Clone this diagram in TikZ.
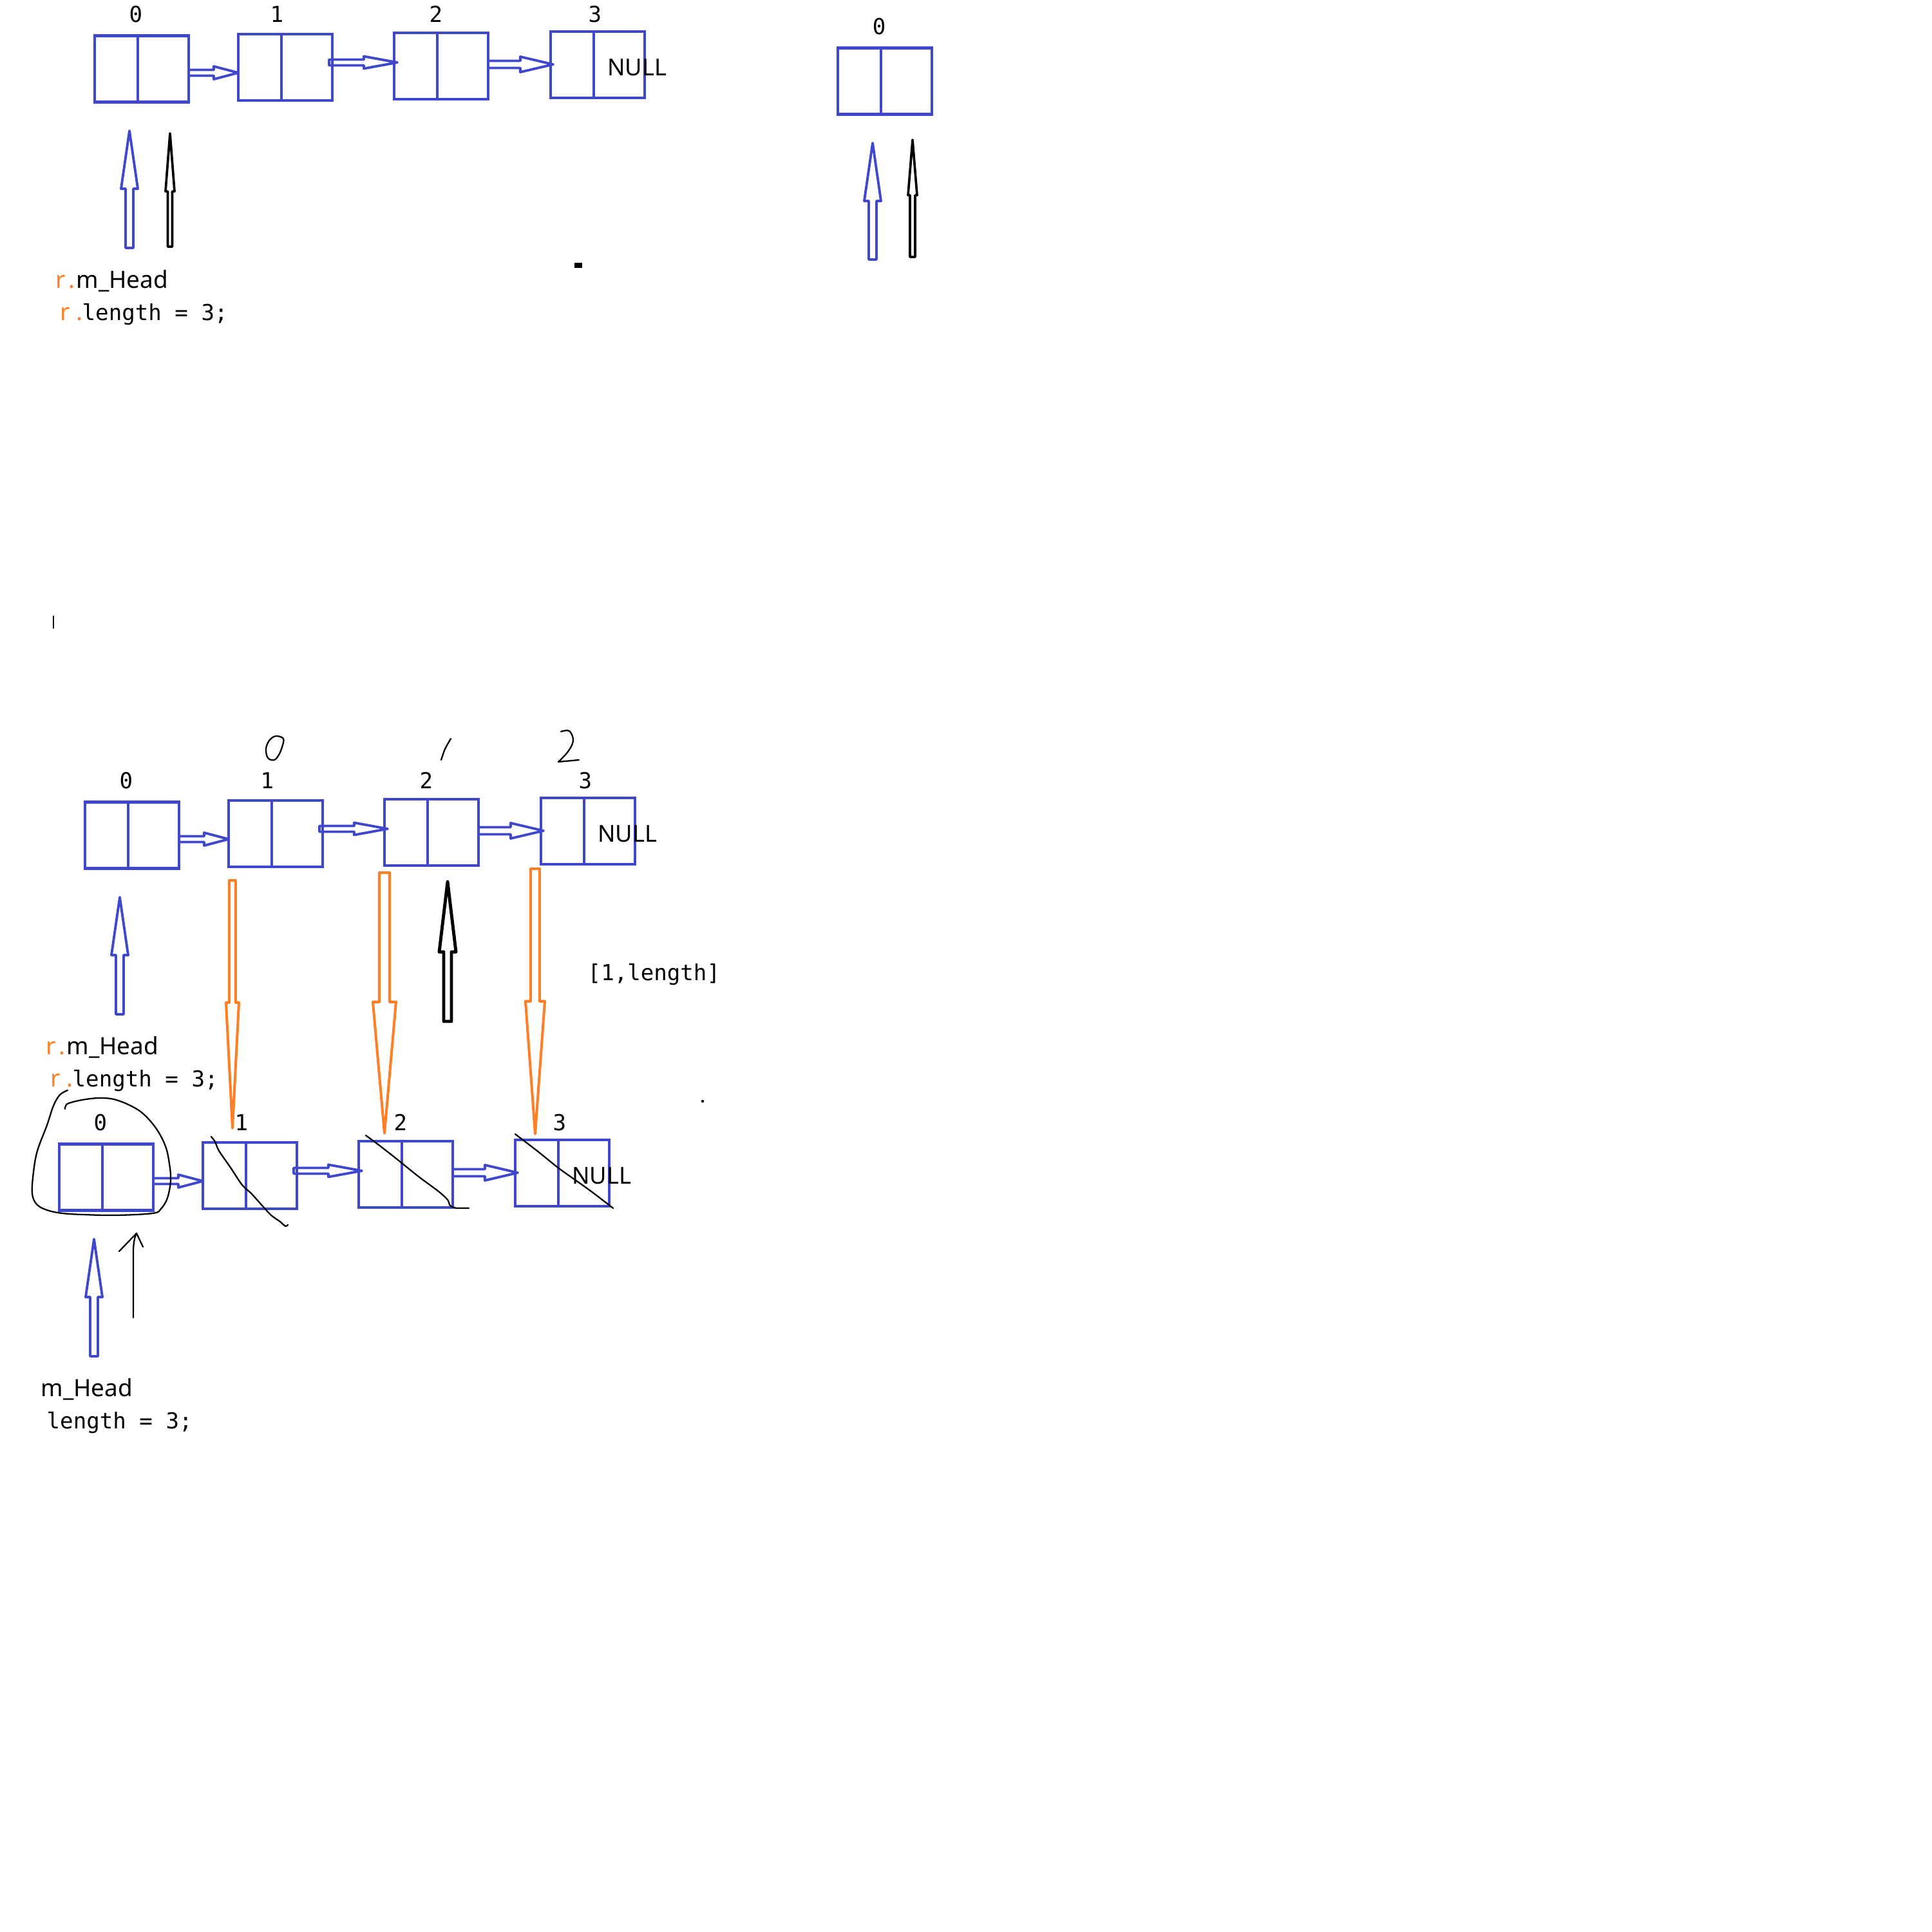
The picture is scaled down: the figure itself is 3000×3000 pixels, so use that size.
\documentclass[tikz,border=0pt]{standalone}
\usepackage{fontspec}
\setmainfont{Noto Sans}
\newfontfamily\monof{DejaVu Sans Mono}
\usetikzlibrary{calc}
\definecolor{pblue}{RGB}{63,72,204}
\definecolor{porange}{RGB}{255,127,39}
\tikzset{
  cell/.style={draw=pblue, line width=1.3pt, rectangle, minimum width=1.46cm, minimum height=1.03cm, inner sep=0pt, outer sep=0pt},
  divider/.style={draw=pblue, line width=1.2pt},
  idx/.style={font=\monof\fontsize{9.7}{11}\selectfont, inner sep=0pt},
  code/.style={font=\monof\fontsize{9.7}{11}\selectfont, inner sep=0pt, anchor=base west},
  sanstext/.style={font=\fontsize{10.5}{12}\selectfont, inner sep=0pt, anchor=base west},
  rdot/.style={font=\fontsize{10.5}{12}\selectfont, inner sep=0pt, anchor=base west, text=porange},
  nulltext/.style={font=\fontsize{10.3}{12}\selectfont, inner sep=0pt},
  bluearrow/.style={draw=pblue, line width=1.1pt, line join=round},
  orangearrow/.style={draw=porange, line width=1.15pt, line join=round},
  blackarrow/.style={draw=black, line width=1.4pt, line join=round},
  thinblack/.style={draw=black, line width=1.05pt, line join=round},
  hand/.style={draw=black, line width=0.65pt, line cap=round, line join=round},
}
% hollow block arrow: [style]{tail}{tip}{shaft half width}{head half width}{head length} (all in px)
\newcommand\blockarrow[6][]{%
  \path (#2) coordinate (bas) (#3) coordinate (bae);
  \pgfpointdiff{\pgfpointanchor{bas}{center}}{\pgfpointanchor{bae}{center}}%
  \pgfgetlastxy\badx\bady
  \pgfmathsetmacro\balen{veclen(\badx,\bady)/0.284528}%
  \pgfmathsetmacro\baang{atan2(\bady,\badx)}%
  \pgfmathsetmacro\babase{\balen-(#6)}%
  \begin{scope}[reset cm, shift={(bas)}, rotate=\baang, x=0.01cm, y=0.01cm]
    \draw[#1] (0,-#4) -- (\babase,-#4) -- (\babase,-#5) -- (\balen,0)
      -- (\babase,#5) -- (\babase,#4) -- (0,#4) -- cycle;
  \end{scope}}
% one linked-list row: {prefix}{dx}{dy}
\newcommand\llrow[3]{%
  \begin{scope}[shift={(#2,#3)}]
    \node[cell] (#1b0) at (220,107) {};
    \node[cell] (#1b1) at (443,104.5) {};
    \node[cell] (#1b2) at (685,102.5) {};
    \node[cell] (#1b3) at (928,100.5) {};
    \foreach \k in {0,1,2,3}{\draw[divider] ([xshift=0.67cm]#1b\k.north west) -- ([xshift=0.67cm]#1b\k.south west);}
    \node[idx] (#1l0) at (211,22) {0};
    \node[idx] (#1l1) at (430,22) {1};
    \node[idx] (#1l2) at (677,22) {2};
    \node[idx] (#1l3) at (924,22) {3};
    \node[nulltext] (#1null) at (989,105) {NULL};
    \coordinate (#1ub) at (201,385);
    \coordinate (#1ut) at (201,203);
    \node[sanstext] (#1head) at (118,447) {m\_Head};
    \node[code] (#1len) at (127,497) {length = 3;};
  \end{scope}
  \blockarrow[bluearrow]{[yshift=-0.06cm]#1b0.east}{[yshift=-0.085cm]#1b1.west}{4.5}{10}{38}
  \blockarrow[bluearrow]{[xshift=-0.05cm,yshift=0.075cm]#1b1.east}{[xshift=0.05cm,yshift=0.055cm]#1b2.west}{4.5}{9.5}{52}
  \blockarrow[bluearrow]{[yshift=0.025cm]#1b2.east}{[xshift=0.04cm,yshift=0.005cm]#1b3.west}{5.5}{12}{51}
  \blockarrow[bluearrow]{#1ub}{#1ut}{6}{13}{90}
}
\begin{document}
\begin{tikzpicture}[x=0.01cm, y=-0.01cm]
  \fill[white] (0,0) rectangle (3000,3000);
  \useasboundingbox (0,0) rectangle (3000,3000);

  % ---------- top row ----------
  \llrow{t-}{0}{0}
  \node[rdot] (t-rh) at (86,447) {r\kern1.4pt.};
  \node[rdot] (t-rl) at (93,497) {r\kern2.6pt.};
  \coordinate (t-kb) at (264,383);
  \coordinate (t-kt) at (264,207);
  \blockarrow[thinblack]{t-kb}{t-kt}{3.5}{7}{90}

  % ---------- top right single node ----------
  \begin{scope}[shift={(1154,19)}]
    \node[cell] (r-b0) at (220,107) {};
    \draw[divider] ([xshift=0.67cm]r-b0.north west) -- ([xshift=0.67cm]r-b0.south west);
    \node[idx] (r-l0) at (211,22) {0};
    \coordinate (r-ub) at (201,384);
    \coordinate (r-ut) at (201,203);
    \coordinate (r-kb) at (263,380);
    \coordinate (r-kt) at (263,198);
  \end{scope}
  \blockarrow[bluearrow]{r-ub}{r-ut}{6}{13}{90}
  \blockarrow[thinblack]{r-kb}{r-kt}{4}{7}{86}

  % stray marks
  \fill[black] (892,408) rectangle (904,416);
  \draw[black, line width=0.6pt] (83,956) -- (83,976);
  \fill[black] (1091,1710) circle (2.2);

  % ---------- middle row ----------
  \llrow{m-}{-15}{1190}
  \node[rdot] (m-rh) at (71,1637) {r\kern1.4pt.};
  \node[rdot] (m-rl) at (78,1687) {r\kern2.6pt.};
  % handwritten new indices
  \draw[hand] plot[smooth cycle, tension=0.6] coordinates {(428,1143) (440,1147) (438,1160) (433,1172) (426,1180) (416,1177) (413,1163) (418,1150)};
  \draw[hand] plot[smooth] coordinates {(700,1147) (691,1163) (685,1180)};
  \draw[hand] plot[smooth, tension=0.6] coordinates {(871,1136) (884,1135) (890,1150) (882,1167) (867,1183)} -- (899,1180);
  % range text
  \node[code] (rng) at (912,1522) {[1,length]};
  % black pointer arrow
  \coordinate (m-kb) at (695,1586);
  \blockarrow[blackarrow]{m-kb}{[xshift=0.25cm,yshift=-0.25cm]m-b2.south}{6}{13}{109}

  % ---------- bottom row ----------
  \llrow{b-}{-55}{1721}

  % orange arrows middle -> bottom
  \blockarrow[orangearrow]{[xshift=-0.67cm,yshift=-0.21cm]m-b1.south}{[xshift=-0.27cm,yshift=0.22cm]b-b1.north}{5}{10}{195}
  \blockarrow[orangearrow]{[xshift=-0.73cm,yshift=-0.11cm]m-b2.south}{[xshift=-0.33cm,yshift=0.12cm]b-b2.north}{8}{18}{204}
  \blockarrow[orangearrow]{[xshift=-0.82cm,yshift=-0.07cm]m-b3.south}{[xshift=-0.42cm,yshift=0.09cm]b-b3.north}{7}{15}{206}

  % loop around bottom node 0
  \draw[hand] plot[smooth, tension=0.6] coordinates {(105,1693) (93,1700) (83,1717) (73,1747) (58,1787) (52,1820) (50,1853) (57,1870) (73,1879) (97,1884) (130,1886) (180,1887) (237,1884) (250,1877) (260,1860) (265,1833) (263,1807) (257,1780) (243,1753) (223,1730) (203,1717) (177,1707) (153,1705) (127,1708) (107,1713) (102,1717) (101,1722)};
  % strike-through lines
  \draw[hand] plot[smooth, tension=0.5] coordinates {(328,1765) (334,1773) (340,1787) (358,1813) (376,1840) (390,1853) (408,1873) (421,1887) (435,1897) (443,1904) (447,1902)};
  \draw[hand] plot[smooth, tension=0.5] coordinates {(568,1763) (587,1777) (614,1798) (650,1827) (681,1850) (695,1863) (699,1872) (708,1876)} -- (728,1876);
  \draw[hand] plot[smooth, tension=0.5] coordinates {(800,1761) (834,1787) (869,1815) (914,1847) (952,1876)};
  % hand-drawn pointer
  \coordinate (b-hs) at (207,2046);
  \coordinate (b-ht) at (212,1915);
  \draw[hand] (b-hs) -- (207,1945) .. controls (207,1930) and (209,1921) .. (b-ht);
  \draw[hand] (185,1943) -- (b-ht) -- (222,1936);
\end{tikzpicture}
\end{document}
